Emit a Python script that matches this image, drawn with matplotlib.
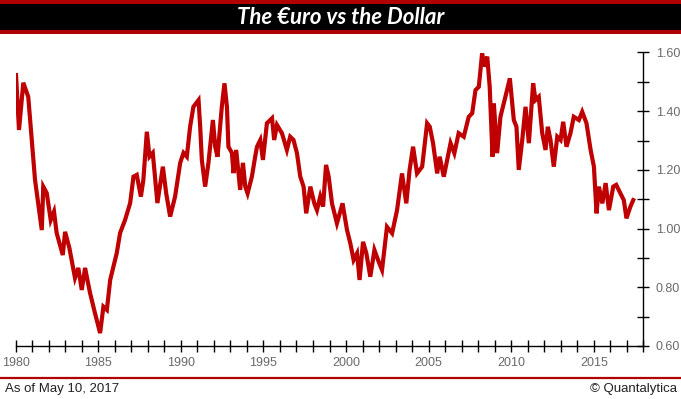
import matplotlib
matplotlib.use("Agg")
import matplotlib.pyplot as plt
from matplotlib.ticker import MultipleLocator, FormatStrFormatter
from matplotlib.patches import Rectangle
from matplotlib.lines import Line2D

# EUR/USD (synthetic before 1999)
years = [
    1980.02, 1980.20, 1980.46, 1980.76, 1980.97, 1981.17, 1981.58, 1981.67, 1981.88, 1982.12,
    1982.32, 1982.48, 1982.85, 1982.99, 1983.25, 1983.59, 1983.79, 1984.00, 1984.20, 1984.50,
    1984.80, 1985.11, 1985.31, 1985.52, 1985.72, 1986.12, 1986.32, 1986.62, 1986.93, 1987.13,
    1987.33, 1987.58, 1987.73, 1987.94, 1988.10, 1988.30, 1988.58, 1988.91, 1989.11, 1989.35,
    1989.65, 1989.96, 1990.16, 1990.36, 1990.56, 1990.76, 1991.07, 1991.17, 1991.27, 1991.47,
    1991.67, 1991.94, 1992.08, 1992.22, 1992.48, 1992.64, 1992.79, 1992.88, 1993.09, 1993.19,
    1993.35, 1993.59, 1993.76, 1993.90, 1994.04, 1994.30, 1994.50, 1994.61, 1994.81, 1994.97,
    1995.21, 1995.52, 1995.65, 1995.82, 1996.12, 1996.42, 1996.62, 1996.82, 1997.03, 1997.23,
    1997.43, 1997.59, 1997.84, 1998.08, 1998.24, 1998.44, 1998.61, 1998.79, 1998.95, 1999.15,
    1999.45, 1999.79, 2000.06, 2000.26, 2000.46, 2000.67, 2000.82, 2001.03, 2001.23, 2001.47,
    2001.72, 2001.98, 2002.18, 2002.48, 2002.79, 2003.09, 2003.39, 2003.65, 2003.85, 2004.06,
    2004.30, 2004.61, 2004.91, 2005.07, 2005.27, 2005.52, 2005.67, 2005.92, 2006.33, 2006.56,
    2006.82, 2007.13, 2007.43, 2007.64, 2007.84, 2008.04, 2008.24, 2008.38, 2008.55, 2008.70,
    2008.87, 2008.95, 2009.15, 2009.35, 2009.65, 2009.92, 2010.16, 2010.32, 2010.46, 2010.67,
    2010.87, 2011.07, 2011.33, 2011.47, 2011.67, 2011.88, 2012.08, 2012.22, 2012.38, 2012.58,
    2012.79, 2012.99, 2013.15, 2013.35, 2013.59, 2013.79, 2014.10, 2014.30, 2014.56, 2014.81,
    2015.01, 2015.17, 2015.31, 2015.52, 2015.72, 2015.92, 2016.18, 2016.36, 2016.62, 2016.82,
    2016.98, 2017.22, 2017.39,
]
rates = [
    1.523, 1.336, 1.497, 1.449, 1.302, 1.166, 0.995, 1.143, 1.121, 1.029,
    1.058, 0.985, 0.910, 0.989, 0.934, 0.832, 0.866, 0.791, 0.866, 0.781,
    0.712, 0.644, 0.734, 0.723, 0.825, 0.917, 0.985, 1.029, 1.087, 1.177,
    1.183, 1.109, 1.166, 1.330, 1.245, 1.258, 1.087, 1.211, 1.121, 1.041,
    1.109, 1.224, 1.258, 1.245, 1.347, 1.415, 1.438, 1.347, 1.234, 1.143,
    1.224, 1.370, 1.279, 1.245, 1.415, 1.495, 1.415, 1.279, 1.258, 1.189,
    1.268, 1.132, 1.224, 1.143, 1.120, 1.177, 1.245, 1.279, 1.302, 1.234,
    1.359, 1.376, 1.302, 1.353, 1.325, 1.268, 1.313, 1.302, 1.257, 1.177,
    1.143, 1.052, 1.143, 1.086, 1.063, 1.109, 1.075, 1.217, 1.177, 1.086,
    1.018, 1.086, 0.995, 0.950, 0.893, 0.916, 0.825, 0.955, 0.916, 0.836,
    0.927, 0.887, 0.859, 1.006, 0.984, 1.063, 1.188, 1.086, 1.200, 1.279,
    1.188, 1.211, 1.359, 1.347, 1.291, 1.188, 1.245, 1.177, 1.291, 1.257,
    1.325, 1.313, 1.381, 1.393, 1.472, 1.483, 1.597, 1.552, 1.586, 1.483,
    1.245, 1.427, 1.257, 1.381, 1.449, 1.512, 1.370, 1.347, 1.200, 1.302,
    1.415, 1.291, 1.495, 1.438, 1.449, 1.325, 1.268, 1.347, 1.302, 1.211,
    1.313, 1.302, 1.364, 1.279, 1.325, 1.381, 1.370, 1.398, 1.359, 1.268,
    1.211, 1.052, 1.143, 1.086, 1.155, 1.063, 1.143, 1.149, 1.120, 1.097,
    1.035, 1.075, 1.097,
]

title = "The \u20acuro vs the Dollar"
note_left = "As of May 10, 2017"
note_right = "\u00a9 Quantalytica"

W, H = 681, 399
fig = plt.figure(figsize=(W / 100, H / 100), dpi=100)
plt.rcParams["font.family"] = ["Liberation Sans", "DejaVu Sans"]

# title bar: red stripes round a black band
fig.patches.append(Rectangle((0, 1 - 34 / H), 1, 34 / H, transform=fig.transFigure,
                             facecolor="#b00000", edgecolor="none", zorder=0))
fig.patches.append(Rectangle((0, 1 - 30 / H), 1, 26 / H, transform=fig.transFigure,
                             facecolor="#000000", edgecolor="none", zorder=1))
fig.text(0.5, 1 - 17 / H, title, color="white", ha="center", va="center",
         fontsize=16, fontweight="bold", fontstyle="italic", family=["Lato", "DejaVu Sans"])

ax = fig.add_axes([15.7 / W, 53 / H, (643.3 - 15.7) / W, (346 - 52.5) / H])
ax.plot(years, rates, color="#c00000", lw=3.0, solid_joinstyle="miter")

ax.set_xlim(1980, 2018)
ax.set_ylim(0.6, 1.6)
for s in ["top", "left"]:
    ax.spines[s].set_visible(False)
ax.spines["right"].set_linewidth(1.0)
ax.spines["bottom"].set_linewidth(1.0)

ax.xaxis.set_major_locator(MultipleLocator(5))
ax.xaxis.set_minor_locator(MultipleLocator(1))
ax.xaxis.set_major_formatter(FormatStrFormatter("%d"))
ax.yaxis.tick_right()
ax.yaxis.set_major_locator(MultipleLocator(0.2))
ax.yaxis.set_minor_locator(MultipleLocator(0.1))
ax.yaxis.set_major_formatter(FormatStrFormatter("%.2f"))

ax.tick_params(which="both", direction="inout", length=8, width=1, color="black",
               labelcolor="#6a6a6a", labelsize=9)
ax.tick_params(axis="x", which="major", pad=4)
ax.tick_params(axis="y", which="major", pad=5)
ax.tick_params(axis="y", which="both", left=False, right=True)

# footer
fig.lines.append(Line2D([0, 1], [1 - 378 / H, 1 - 378 / H], transform=fig.transFigure,
                        color="#b00000", lw=1.6))
fig.text(5 / W, 1 - 389 / H, note_left, ha="left", va="center", fontsize=9.5, color="#222222")
fig.text(677 / W, 1 - 389 / H, note_right, ha="right", va="center", fontsize=9.5, color="#222222")

fig.savefig("out.png", dpi=100)
